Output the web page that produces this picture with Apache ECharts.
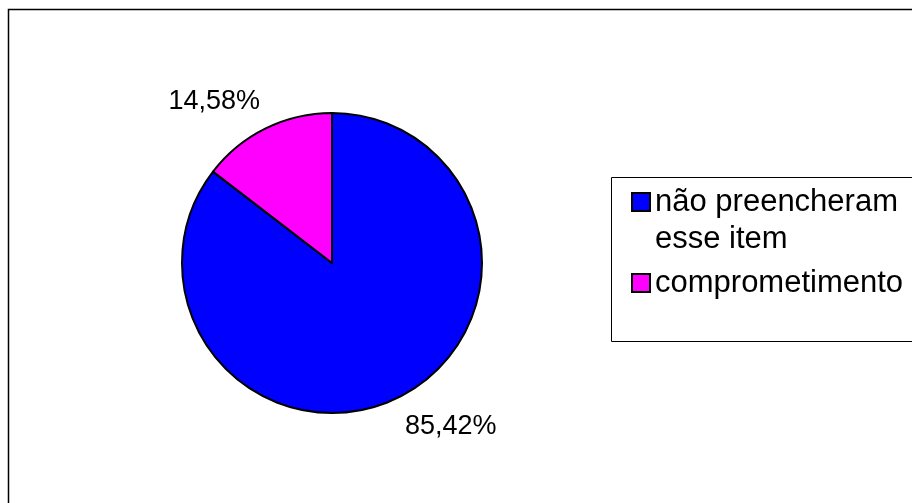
<!DOCTYPE html>
<html>
<head>
<meta charset="utf-8">
<script src="https://cdn.jsdelivr.net/npm/echarts@6/dist/echarts.min.js"></script>
<style>
  html, body { margin: 0; padding: 0; background: #fff; }
  #chart { width: 912px; height: 503px; }
</style>
</head>
<body>
<div id="chart"></div>
<script>
// dados da pizza
const categories = ["não preencheram esse item", "comprometimento"];
const values = [85.42, 14.58];
const colors = ["#0000FF", "#FF00FF"];

const chart = echarts.init(document.getElementById("chart"));
const font = "Liberation Sans, Arial, sans-serif";
const legendFont = "31px " + font;

const pieData = categories.map((name, i) => ({
  name: name,
  value: values[i],
  itemStyle: { color: colors[i] },
}));

// quebra o texto da legenda por palavras, sem espaco no inicio da linha
function wrap(text, maxWidth) {
  const ctx = document.createElement("canvas").getContext("2d");
  ctx.font = legendFont;
  const lines = [];
  let line = "";
  text.split(" ").forEach((w) => {
    const test = line ? line + " " + w : w;
    if (line && ctx.measureText(test).width > maxWidth) {
      lines.push(line);
      line = w;
    } else {
      line = test;
    }
  });
  lines.push(line);
  return lines.join("\n");
}

// legenda desenhada a mao (caixa a direita, cortada pela borda)
const legendTop = [193, 274];
const legendItems = [];
categories.forEach((name, i) => {
  legendItems.push({
    type: "rect",
    shape: { x: 632, y: legendTop[i], width: 18, height: 18 },
    style: { fill: colors[i], stroke: "#000", lineWidth: 2 },
  });
  legendItems.push({
    type: "text",
    x: 655,
    y: legendTop[i] + 9 - 18.5,
    style: {
      text: wrap(name, 258),
      fill: "#000",
      font: legendFont,
      lineHeight: 37,
      verticalAlign: "top",
    },
  });
});

const labelShift = [
  { dx: -35, dy: 16 },
  { dx: 36, dy: -13 },
];

const option = {
  animation: false,
  textStyle: { fontFamily: font, color: "#000" },
  graphic: [
    {
      type: "rect",
      shape: { x: 8.5, y: 9.5, width: 1000, height: 600 },
      style: { fill: "none", stroke: "#000", lineWidth: 1.5 },
    },
    {
      type: "rect",
      shape: { x: 611.5, y: 177.5, width: 400, height: 164 },
      style: { fill: "#fff", stroke: "#000", lineWidth: 1 },
    },
    ...legendItems,
  ],
  series: [
    {
      type: "pie",
      center: [332, 263],
      radius: 150,
      startAngle: 90,
      clockwise: true,
      data: pieData,
      itemStyle: { borderColor: "#000", borderWidth: 2 },
      label: {
        show: true,
        position: "outside",
        fontSize: 27,
        color: "#000",
        fontFamily: font,
        formatter: (p) => p.value.toFixed(2).replace(".", ",") + "%",
      },
      labelLine: { show: false },
      labelLayout: (params) => labelShift[params.dataIndex],
      emphasis: { disabled: true },
    },
  ],
};

chart.setOption(option);
</script>
</body>
</html>
